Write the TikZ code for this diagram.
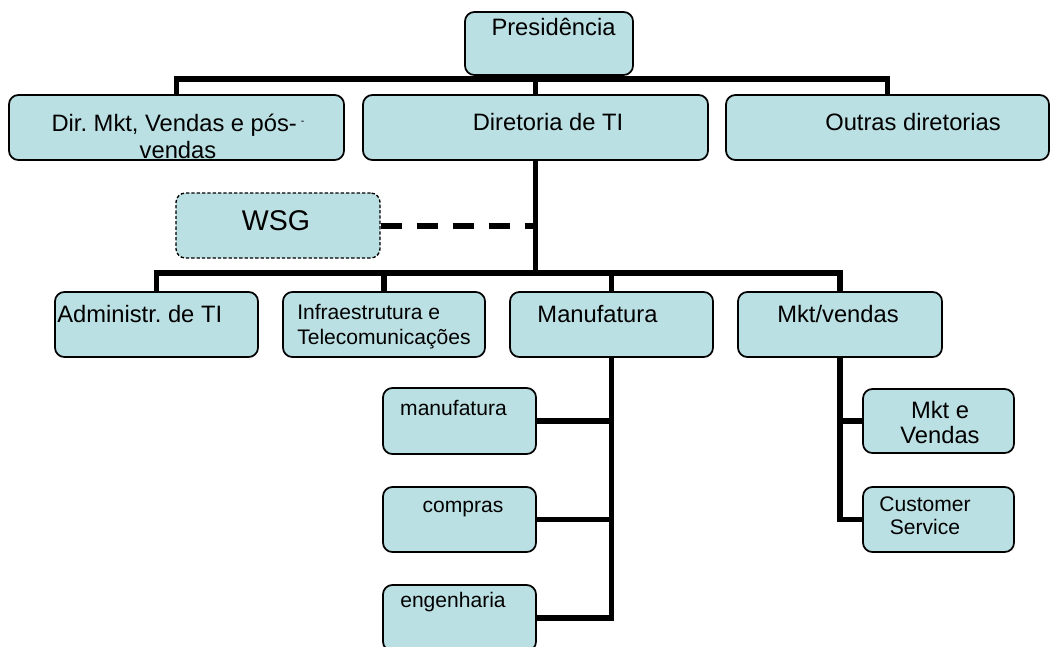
\documentclass[tikz,border=0pt]{standalone}
\usepackage{fontspec}
\setmainfont{Liberation Sans}
\frenchspacing
\definecolor{boxfill}{RGB}{187,224,227}
\tikzset{
	box/.style 2 args={draw, line width=1.3pt, fill=boxfill, rounded corners=7pt, inner sep=0pt, minimum width=#1*0.75pt, minimum height=#2*0.75pt},
	dashedbox/.style 2 args={box={#1}{#2}, dash pattern=on 2.5pt off 1.5pt, line width=1pt},
	boxtext/.style={inner sep=0pt, font=\fontsize{17.8}{20}\selectfont},
	smalltext/.style={inner sep=0pt, font=\fontsize{15.8}{18.75}\selectfont},
	link/.style={line width=3.9pt},
	dashlink/.style={line width=4.5pt, dash pattern=on 16pt off 11pt}
}

\begin{document}
\begin{tikzpicture}[x=0.75pt, y=-0.75pt]
	\useasboundingbox (0, 0) rectangle (1052, 646);

	\node[box={168}{63}] at (549, 43.5) (presidencia) {};
	\node[box={335}{65}] at (176.5, 127.5) (dir-mkt-vendas) {};
	\node[box={345}{65}] at (535.5, 127.5) (diretoria-ti) {};
	\node[box={323}{65}] at (887.5, 127.5) (outras-diretorias) {};
	\node[dashedbox={204}{65}] at (278, 225.5) (wsg) {};

	\node[box={203}{65}] at (156.5, 324.5) (administr-ti) {};
	\node[box={202}{65}] at (384, 324.5) (infraestrutura) {};
	\node[box={203}{65}] at (611.5, 324.5) (manufatura) {};
	\node[box={204}{65}] at (840, 324.5) (mkt-vendas) {};

	\node[box={153}{66}] at (459.5, 421) (manufatura-sub) {};
	\node[box={153}{65}] at (459.5, 519.5) (compras) {};
	\node[box={153}{66}] at (459.5, 618) (engenharia) {};
	\node[box={151}{64}] at (938.5, 421) (mkt-e-vendas) {};
	\node[box={151}{65}] at (938.5, 519.5) (customer-service) {};

	\node[boxtext, anchor=base] at (553.5, 35) (presidencia-text) {Presidência};
	\node[boxtext, align=center, font=\fontsize{17.8}{20.25}\selectfont] at (178, 136) (dir-mkt-vendas-text) {Dir. Mkt, Vendas e pós-\,\raisebox{.3em}{\fontsize{8}{8}\selectfont -}\\vendas};
	\node[boxtext, anchor=base] at (548, 130) (diretoria-ti-text) {Diretoria de TI};
	\node[boxtext, anchor=base] at (913, 130) (outras-diretorias-text) {Outras diretorias};
	\node[inner sep=0pt, font=\fontsize{21.4}{24}\selectfont, anchor=base] at (276, 230) (wsg-text) {WSG};

	\node[boxtext, anchor=base west] at (57, 322) (administr-ti-text) {Administr. de TI};
	\node[smalltext, align=left, anchor=west] at (297, 327) (infraestrutura-text) {Infraestrutura e\\Telecomunicações};
	\node[boxtext, anchor=base] at (597.5, 322) (manufatura-text) {Manufatura};
	\node[boxtext, anchor=base] at (838, 322) (mkt-vendas-text) {Mkt/vendas};

	\node[smalltext, anchor=base] at (453.5, 415) (manufatura-sub-text) {manufatura};
	\node[smalltext, anchor=base] at (463, 512) (compras-text) {compras};
	\node[smalltext, anchor=base] at (453, 607) (engenharia-text) {engenharia};
	\node[boxtext, align=center, font=\fontsize{17.8}{18.75}\selectfont] at (940, 423) (mkt-e-vendas-text) {Mkt e\\Vendas};
	\node[smalltext, align=center, font=\fontsize{15.8}{17.25}\selectfont] at (925, 516) (customer-service-text) {Customer\\Service};

	\coordinate (top-bus) at (549, 79);
	\coordinate (ti-bus) at (535.5, 273);

	\draw[link] (presidencia.south) -- (presidencia.south |- top-bus);
	\draw[link] (dir-mkt-vendas.north) -- (dir-mkt-vendas.north |- top-bus) -- (outras-diretorias.north |- top-bus) -- (outras-diretorias.north);
	\draw[link] (diretoria-ti.north) -- (diretoria-ti.north |- top-bus);
	\draw[link] (diretoria-ti.south) -- (diretoria-ti.south |- ti-bus);
	\draw[dashlink] (wsg.east) -- (wsg.east -| diretoria-ti.south);

	\draw[link] (administr-ti.north) -- (administr-ti.north |- ti-bus) -- (mkt-vendas.north |- ti-bus) -- (mkt-vendas.north);
	\draw[link] (infraestrutura.north) -- (infraestrutura.north |- ti-bus);
	\draw[link] (manufatura.north) -- (manufatura.north |- ti-bus);

	\draw[link] (manufatura.south) |- (engenharia.east);
	\draw[link] (manufatura-sub.east) -- (manufatura-sub.east -| manufatura.south);
	\draw[link] (compras.east) -- (compras.east -| manufatura.south);
	\draw[link] (mkt-vendas.south) |- (customer-service.west);
	\draw[link] (mkt-e-vendas.west) -- (mkt-e-vendas.west -| mkt-vendas.south);
\end{tikzpicture}
\end{document}
